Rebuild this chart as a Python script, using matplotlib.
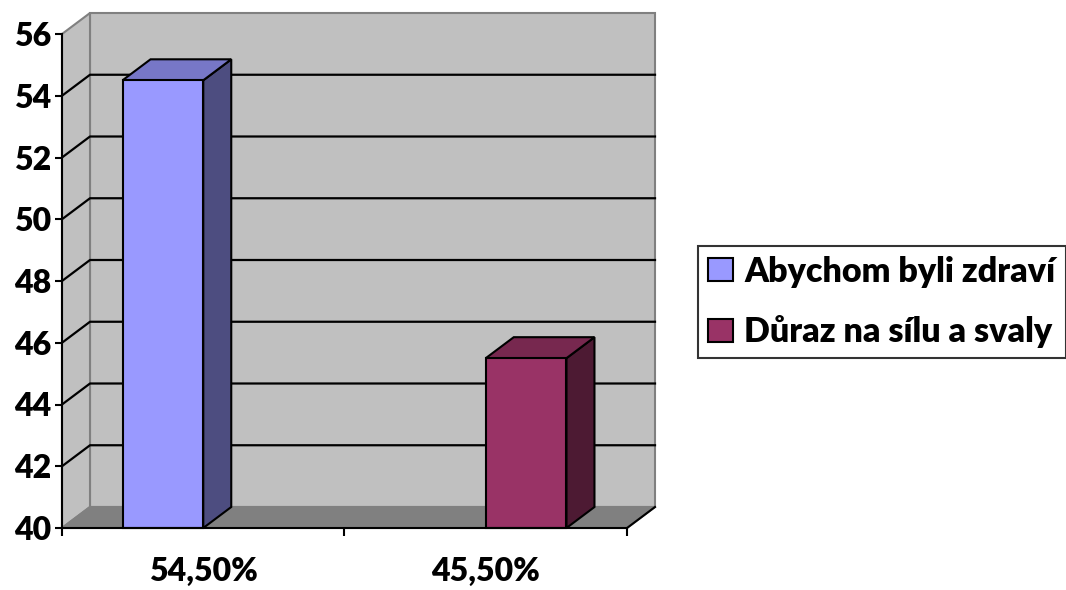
import matplotlib
matplotlib.use("Agg")
import matplotlib.pyplot as plt
from matplotlib.patches import Polygon, Patch
import numpy as np

# Data
categories = ["54,50%", "45,50%"]
series_names = ["Abychom byli zdraví", "Důraz na sílu a svaly"]
series_values = [
    [54.5, None],
    [None, 45.5],
]
y_ticks = [40, 42, 44, 46, 48, 50, 52, 54, 56]

front_colors = ["#9999FF", "#993366"]
top_colors = ["#7777C7", "#77284F"]
side_colors = ["#4D4D80", "#4D1A33"]

WALL = "#C0C0C0"
FLOOR = "#808080"
WALL_EDGE = "#808080"
FONT = ["Lato", "DejaVu Sans"]
WEIGHT = "heavy"
FS = 23
LEG_FS = 24.5

plt.rcParams["font.family"] = FONT
plt.rcParams["font.weight"] = WEIGHT
plt.rcParams["font.size"] = FS

W, H, DPI = 1066, 590, 100
fig = plt.figure(figsize=(W / DPI, H / DPI), dpi=DPI)
ax = fig.add_axes([62 / W, (H - 528) / H, (627 - 62) / W, (528 - 34) / H])
ax.set_xlim(0, len(categories))
ax.set_ylim(y_ticks[0], y_ticks[-1])
ax.patch.set_visible(False)

# depth of the 3-D box, expressed in pixels and converted to data units
DEPTH_PX = np.array([28.0, 21.0])
p0 = ax.transData.transform((0, y_ticks[0]))
dx, dy = ax.transData.inverted().transform(p0 + DEPTH_PX) - np.array([0, y_ticks[0]])

x0, x1 = ax.get_xlim()
y0, y1 = ax.get_ylim()

# back wall, side wall, floor
ax.add_patch(Polygon([(x0 + dx, y0 + dy), (x1 + dx, y0 + dy), (x1 + dx, y1 + dy), (x0 + dx, y1 + dy)],
                     closed=True, facecolor=WALL, edgecolor=WALL_EDGE, lw=1.5, zorder=0.5, clip_on=False))
ax.add_patch(Polygon([(x0, y0), (x0 + dx, y0 + dy), (x0 + dx, y1 + dy), (x0, y1)],
                     closed=True, facecolor=WALL, edgecolor=WALL_EDGE, lw=1.5, zorder=0.6, clip_on=False))
ax.add_patch(Polygon([(x0, y0), (x1, y0), (x1 + dx, y0 + dy), (x0 + dx, y0 + dy)],
                     closed=True, facecolor=FLOOR, edgecolor=WALL_EDGE, lw=1.5, zorder=0.7, clip_on=False))
ax.plot([x1, x1 + dx], [y0, y0 + dy], color="black", lw=1.5, zorder=0.8, clip_on=False,
        solid_capstyle="projecting")

# gridlines across side wall and back wall
for v in y_ticks[1:-1]:
    ax.plot([x0, x0 + dx, x1 + dx], [v, v + dy, v + dy], color="black", lw=1.6,
            zorder=0.9, clip_on=False)

# clustered 3-D columns
n_series = len(series_values)
gap_width = 1.5
bar_w = 1.0 / (n_series + gap_width)
for si, vals in enumerate(series_values):
    offset = (si - (n_series - 1) / 2) * bar_w
    for ci, v in enumerate(vals):
        if v is None:
            continue
        xl = ci + 0.5 + offset - bar_w / 2
        xr = xl + bar_w
        kw = dict(closed=True, edgecolor="black", lw=1.5, joinstyle="miter", clip_on=False)
        ax.add_patch(Polygon([(xr, y0), (xr + dx, y0 + dy), (xr + dx, v + dy), (xr, v)],
                             facecolor=side_colors[si], zorder=3, **kw))
        ax.add_patch(Polygon([(xl, v), (xr, v), (xr + dx, v + dy), (xl + dx, v + dy)],
                             facecolor=top_colors[si], zorder=3, **kw))
        ax.add_patch(Polygon([(xl, y0), (xr, y0), (xr, v), (xl, v)],
                             facecolor=front_colors[si], zorder=3.1, **kw))

# axes
for s in ["top", "right"]:
    ax.spines[s].set_visible(False)
for s in ["left", "bottom"]:
    ax.spines[s].set_linewidth(1.5)
    ax.spines[s].set_zorder(4)
ax.set_yticks(y_ticks)
ax.set_yticklabels([str(t) for t in y_ticks])
ax.set_xticks(np.arange(len(categories) + 1))
ax.set_xticklabels([])
ax.set_xticks(np.arange(len(categories)) + 0.5, minor=True)
ax.set_xticklabels(categories, minor=True)
ax.tick_params(axis="y", which="major", direction="out", length=5, width=1.5, pad=3,
               labelsize=FS)
ax.tick_params(axis="x", which="major", direction="out", length=6, width=1.5)
ax.tick_params(axis="x", which="minor", length=0, pad=21, labelsize=FS)

# legend
handles = [Patch(facecolor=c, edgecolor="black", lw=1.5) for c in front_colors]
leg = fig.legend(handles, series_names, loc="center left", bbox_to_anchor=(698 / W, 1 - 302 / H),
                 prop=dict(family=FONT, weight=WEIGHT, size=LEG_FS), frameon=True, fancybox=False,
                 edgecolor="black", handlelength=0.74, handleheight=0.66, handletextpad=0.32,
                 labelspacing=0.8, borderpad=0.3, borderaxespad=0)
leg.get_frame().set_linewidth(1.5)

fig.savefig("out.png", dpi=DPI)
